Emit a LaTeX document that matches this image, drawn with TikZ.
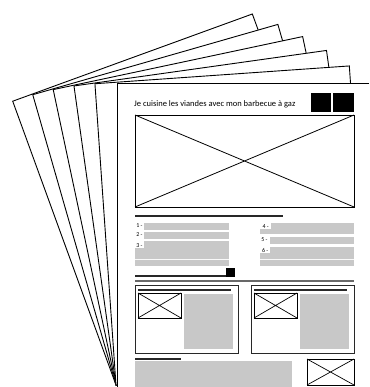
\documentclass[tikz,border=0pt]{standalone}
\usepackage{fontspec}
\setmainfont{Carlito}
\definecolor{ph}{RGB}{200,200,200}
\definecolor{rule}{RGB}{40,40,40}
\begin{document}
\begin{tikzpicture}[x=1pt,y=-1pt,
  sheet/.style={fill=white,draw=black,line width=0.9pt,line join=miter},
  imgbox/.style={draw=black,line width=0.9pt},
  bar/.style={fill=ph},
  hrule/.style={draw=rule,line width=1.6pt},
  num/.style={font=\fontsize{6}{6}\selectfont,inner sep=0.5pt,anchor=north west,fill=white,text height=4.6pt,text depth=0pt,minimum width=8.5pt,align=left}]
\useasboundingbox (0,0) rectangle (369,387);
\fill[white] (0,0) rectangle (369,387);
% fanned back sheets
\begin{scope}
\clip (0,0) rectangle (366,387);
\foreach \a in {20,16,12,8,4}{
  \draw[sheet, rotate around={\a:(116,385)}] (116,385) rectangle (371,83);
}
\end{scope}
% front sheet
\fill[white] (117,83) rectangle (369,387);
\draw[black,line width=1.5pt] (369,83.5) -- (117.5,83.5) -- (117.5,387);
% title
\node[anchor=base west,inner sep=0pt,font=\fontsize{8.5}{9}\selectfont] (title) at (134,107) {Je cuisine les viandes avec mon barbecue à gaz};
\fill[black] (311,93) rectangle (331,112);
\fill[black] (333,93) rectangle (354,112);
% hero image
\draw[imgbox] (135,115) rectangle (354,207);
\draw[line width=0.8pt] (135,115) -- (354,207) (135,207) -- (354,115);
% list heading
\draw[hrule] (135,216) -- (283,216);
% left list
\fill[bar] (144,223) rectangle (229,229.5);
\fill[bar] (144,232) rectangle (229,239);
\fill[bar] (135,241) rectangle (229,266);
\draw[white!90!ph,line width=0.6pt] (135,259) -- (229,259);
\node[num] (n1) at (135,222) {1 -};
\node[num] (n2) at (135,231) {2 -};
\node[num,minimum height=7pt] (n3) at (135,241) {3 -};
% right list
\fill[bar] (260,223) rectangle (354,234);
\fill[bar] (270,237) rectangle (354,244);
\fill[bar] (260,247) rectangle (354,266);
\draw[white!90!ph,line width=0.6pt] (260,259) -- (354,259);
\node[num,minimum width=11pt,minimum height=6pt] (n4) at (260,222.5) {4 -};
\node[num] (n5) at (260,236.5) {5 -};
\node[num,minimum width=10pt,minimum height=6pt] (n6) at (260,246.5) {6 -};
% second heading with square
\draw[hrule] (135,276) -- (227,276);
\fill[black] (226,268) rectangle (235,277);
\draw[draw=rule!70,line width=1.4pt] (135,281) -- (354,281);
% cards
\foreach \xo in {0,116}{
  \draw[draw=rule,line width=0.9pt] (135+\xo,285) rectangle (238+\xo,353);
  \draw[hrule,line width=1.3pt] (138+\xo,290) -- (231+\xo,290);
  \draw[imgbox] (138+\xo,293) rectangle (181+\xo,318);
  \draw[line width=0.7pt] (138+\xo,293) -- (181+\xo,318) (138+\xo,318) -- (181+\xo,293);
  \fill[bar] (184+\xo,294) rectangle (233+\xo,349);
}
% bottom section
\draw[hrule,line width=1.3pt] (135,359) -- (181,359);
\fill[bar] (135,361) rectangle (292,387);
\draw[imgbox] (307,359) rectangle (354,385);
\draw[line width=0.7pt] (307,359) -- (354,385) (307,385) -- (354,359);
\end{tikzpicture}
\end{document}
